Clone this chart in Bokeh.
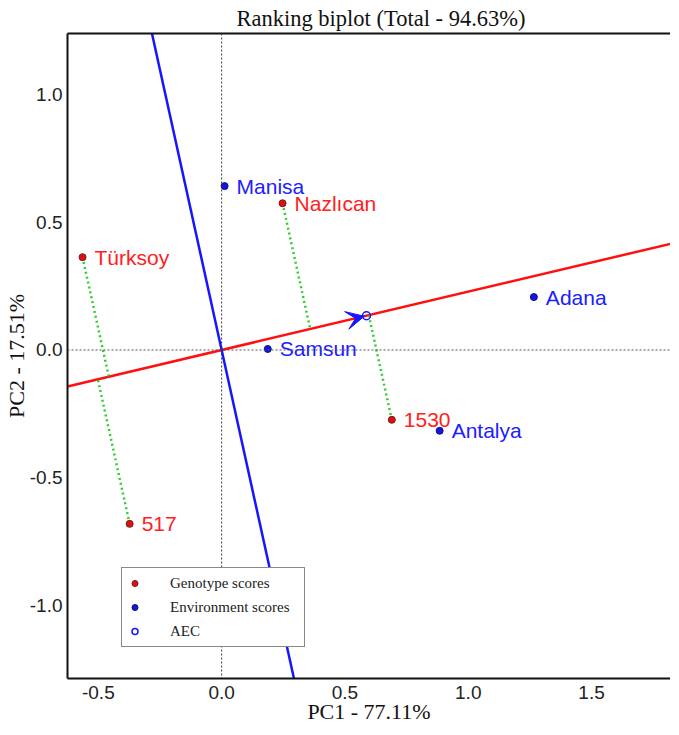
import numpy as np
from bokeh.plotting import figure
from bokeh.models import (Range1d, FixedTicker, LinearAxis, Span, Legend, LegendItem,
                          Arrow, VeeHead, ColumnDataSource, NumeralTickFormatter)
from bokeh.core.properties import value
from bokeh.embed import file_html
from bokeh.resources import INLINE

# ---- data ----
genotypes = ["Türksoy", "517", "Nazlıcan", "1530"]
gen_pc1 = [-0.564, -0.373, 0.247, 0.690]
gen_pc2 = [0.363, -0.680, 0.574, -0.273]

environments = ["Manisa", "Samsun", "Adana", "Antalya"]
env_pc1 = [0.012, 0.187, 1.266, 0.884]
env_pc2 = [0.641, 0.004, 0.207, -0.316]

x_ticks = [-0.5, 0.0, 0.5, 1.0, 1.5]
y_ticks = [-1.0, -0.5, 0.0, 0.5, 1.0]

title_text = "Ranking biplot (Total - 94.63%)"
x_label = "PC1 - 77.11%"
y_label = "PC2 - 17.51%"
legend_labels = ["Genotype scores", "Environment scores", "AEC"]

X0, X1 = -0.625, 1.82
Y0, Y1 = -1.285, 1.238

# average environment coordinate (AEC)
aec_x = float(np.mean(env_pc1))
aec_y = float(np.mean(env_pc2))
slope = aec_y / aec_x
ux, uy = aec_x / np.hypot(aec_x, aec_y), aec_y / np.hypot(aec_x, aec_y)

p = figure(frame_width=603, frame_height=645, x_range=Range1d(X0, X1), y_range=Range1d(Y0, Y1),
           output_backend="svg", toolbar_location=None,
           min_border_left=0, min_border_right=0, min_border_top=0, min_border_bottom=0)
p.outline_line_color = None
p.xgrid.visible = False
p.ygrid.visible = False
p.background_fill_color = "white"

p.title.text = title_text
p.title.text_font = "Liberation Serif"
p.title.text_font_size = "22.5px"
p.title.text_font_style = "normal"
p.title.align = "left"
p.title.offset = 169
p.title.standoff = 6
p.title.text_color = "#111111"

for ax in (p.xaxis[0], p.yaxis[0]):
    ax.axis_line_width = 2
    ax.axis_line_color = "#111111"
    ax.major_tick_line_color = None
    ax.minor_tick_line_color = None
    ax.major_tick_out = 0
    ax.major_tick_in = 0
    ax.minor_tick_out = 0
    ax.minor_tick_in = 0
    ax.major_label_text_font = "Liberation Sans"
    ax.major_label_text_font_size = "19px"
    ax.major_label_text_color = "#222222"
    ax.axis_label_text_font = "Liberation Serif"
    ax.axis_label_text_font_size = "22px"
    ax.axis_label_text_font_style = "normal"
    ax.axis_label_text_color = "#111111"
    ax.formatter = NumeralTickFormatter(format="0.0")
p.xaxis[0].ticker = FixedTicker(ticks=x_ticks)
p.yaxis[0].ticker = FixedTicker(ticks=y_ticks)
p.xaxis[0].axis_label = x_label
p.yaxis[0].axis_label = y_label
p.xaxis[0].major_label_standoff = 7
p.xaxis[0].axis_label_standoff = -3
p.yaxis[0].major_label_standoff = 5
p.yaxis[0].axis_label_standoff = -2

top_axis = LinearAxis(axis_line_width=2, axis_line_color="#111111",
                      ticker=FixedTicker(ticks=[]),
                      major_tick_line_color=None, minor_tick_line_color=None,
                      major_label_standoff=0, major_tick_out=0, major_tick_in=0,
                      minor_tick_out=0, minor_tick_in=0)
p.add_layout(top_axis, "above")

# dotted reference axes
p.add_layout(Span(location=0, dimension="height", line_color="#333333", line_dash="2 2", line_width=1))
p.add_layout(Span(location=0, dimension="width", line_color="#555555", line_dash="2 2", line_width=1))

# AEC abscissa (red) and ordinate (blue)
p.line([X0, X1], [slope * X0, slope * X1], line_color="#ff1010", line_width=2.5)
p.line([-slope * Y1, -slope * Y0], [Y1, Y0], line_color="#1515ff", line_width=2.5)

# projections of genotypes onto AEC axis
for gx, gy in zip(gen_pc1, gen_pc2):
    d = gx * ux + gy * uy
    p.line([gx, d * ux], [gy, d * uy], line_color="#33cc33", line_width=2.5, line_dash="2 3")

# arrow toward AEC
p.add_layout(Arrow(end=VeeHead(size=18, fill_color="#1515ff", line_color="#1515ff"),
                   x_start=aec_x * 0.8, y_start=aec_y * 0.8,
                   x_end=aec_x * 0.985, y_end=aec_y * 0.985, line_alpha=0))

gsrc = ColumnDataSource(dict(x=gen_pc1, y=gen_pc2, name=genotypes))
esrc = ColumnDataSource(dict(x=env_pc1, y=env_pc2, name=environments))

r_gen = p.scatter("x", "y", source=gsrc, size=7, fill_color="#e01010", line_color="#702020", line_width=1)
r_env = p.scatter("x", "y", source=esrc, size=7, fill_color="#1515e0", line_color="#101080", line_width=1)
r_aec = p.scatter([aec_x], [aec_y], size=8, fill_color=None, line_color="#1515ff", line_width=1.5)

p.text("x", "y", text="name", source=gsrc, x_offset=12, text_baseline="middle",
       text_font=value("Liberation Sans"), text_font_size="21px", text_color="#ff2020")
p.text("x", "y", text="name", source=esrc, x_offset=12, text_baseline="middle",
       text_font=value("Liberation Sans"), text_font_size="21px", text_color="#2020ff")

legend = Legend(items=[LegendItem(label=legend_labels[0], renderers=[r_gen]),
                       LegendItem(label=legend_labels[1], renderers=[r_env]),
                       LegendItem(label=legend_labels[2], renderers=[r_aec])],
                location=(54, 31), padding=5, glyph_width=15, glyph_height=20, spacing=4,
                label_standoff=28, label_width=129,
                label_text_font="Liberation Serif", label_text_font_size="15px",
                label_text_color="#222222", border_line_color="#111111", border_line_width=1,
                background_fill_alpha=1, margin=0)
p.add_layout(legend, "center")

open("out.html", "w").write(file_html(p, INLINE))
